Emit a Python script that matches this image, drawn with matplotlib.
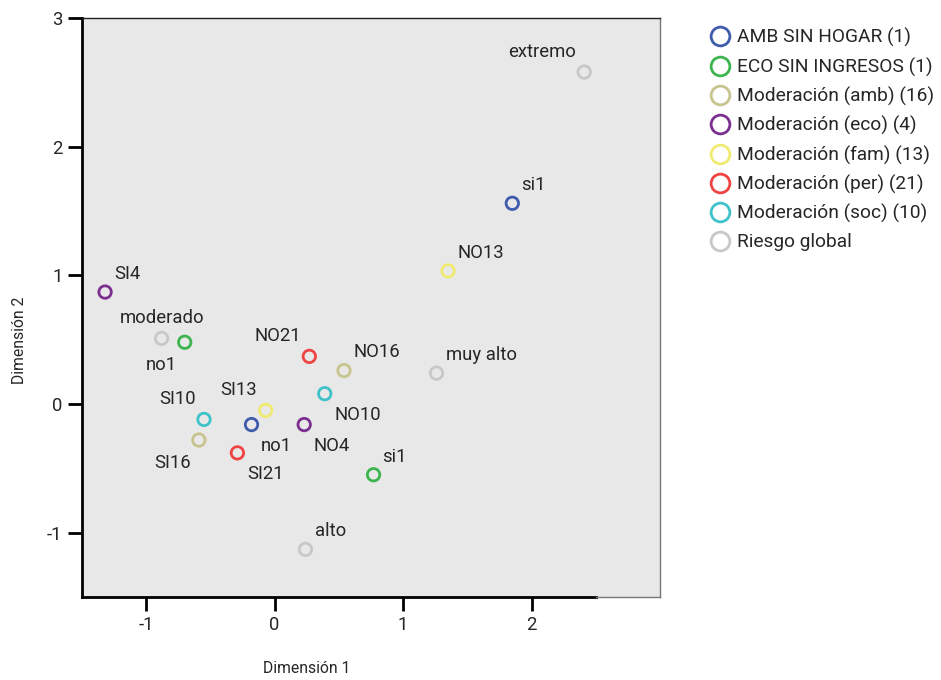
import matplotlib.pyplot as plt
from matplotlib.lines import Line2D

plt.rcParams['font.family'] = ['Roboto', 'DejaVu Sans']
plt.rcParams['axes.unicode_minus'] = False

# categories and legend text
groups = ['AMB SIN HOGAR (1)', 'ECO SIN INGRESOS (1)', 'Moderación (amb) (16)',
          'Moderación (eco) (4)', 'Moderación (fam) (13)', 'Moderación (per) (21)',
          'Moderación (soc) (10)', 'Riesgo global']
colors = ['#3f5bab', '#3db54f', '#c8c48f', '#7b2f8f', '#f0ea70', '#f04444', '#3fc2c8', '#c8c8c8']

# points: label, group index, dim1, dim2
labels = ['si1', 'no1', 'si1', 'no1', 'NO16', 'SI16', 'SI4', 'NO4', 'NO13', 'SI13',
          'NO21', 'SI21', 'NO10', 'SI10', 'extremo', 'muy alto', 'moderado', 'alto']
grp = [0, 0, 1, 1, 2, 2, 3, 3, 4, 4, 5, 5, 6, 6, 7, 7, 7, 7]
dim1 = [1.85, -0.18, 0.77, -0.70, 0.54, -0.59, -1.32, 0.23, 1.35, -0.07,
        0.27, -0.29, 0.39, -0.55, 2.41, 1.26, -0.88, 0.24]
dim2 = [1.56, -0.16, -0.55, 0.48, 0.26, -0.28, 0.87, -0.16, 1.035, -0.05,
        0.37, -0.38, 0.08, -0.12, 2.58, 0.24, 0.51, -1.13]

# where each label sits relative to its point
place = ['ur', 'lr', 'ur', 'll', 'ur', 'll', 'ur', 'lr', 'ur', 'ul',
         'ul', 'lr', 'lr', 'ul', 'ul', 'ur', 'uc', 'ur']
offs = {'ur': (6.5, 13, 'left'), 'ul': (-6, 14.5, 'right'), 'lr': (7, -15.5, 'left'),
        'll': (-6, -16.5, 'right'), 'uc': (0, 15, 'center')}

txt = '#262626'

fig = plt.figure(figsize=(9.41, 6.8), dpi=100)
ax = fig.add_axes([0.0871, 0.1221, 0.6143, 0.8514])
ax.set_facecolor('#e8e8e8')

for i in range(len(labels)):
    ax.scatter(dim1[i], dim2[i], s=80, facecolors='none', edgecolors=colors[grp[i]],
               linewidths=2, zorder=3)
    dx, dy, ha = offs[place[i]]
    ax.annotate(labels[i], (dim1[i], dim2[i]), xytext=(dx, dy), textcoords='offset points',
                ha=ha, va='center', fontsize=13.3, color=txt)

ax.set_xlim(-1.5, 3.0)
ax.set_ylim(-1.5, 3.0)
ax.set_xticks([-1, 0, 1, 2])
ax.set_yticks([-1, 0, 1, 2, 3])
ax.tick_params(direction='out', length=10, width=2, labelsize=13.3, pad=4, colors='black',
               labelcolor=txt)

for s in ['left', 'bottom']:
    ax.spines[s].set_linewidth(2)
    ax.spines[s].set_color('black')
ax.spines['top'].set_linewidth(1)
ax.spines['top'].set_color('#222222')
ax.spines['right'].set_linewidth(1)
ax.spines['right'].set_color('#777777')
ax.spines['bottom'].set_bounds(-1.5, 2.5)
ax.plot([2.5, 3.0], [-1.5, -1.5], color='#777777', lw=1, clip_on=False, zorder=4)

fig.text(0.326, 0.017, 'Dimensión 1', fontsize=11.3, ha='center', va='center', color=txt)
fig.text(0.021, 0.5, 'Dimensión 2', fontsize=11.3, ha='center', va='center', rotation=90,
         color=txt)

handles = [Line2D([], [], marker='o', ls='none', markersize=13.5, mfc='none', mec=c, mew=2)
           for c in colors]
fig.legend(handles, groups, loc='upper left', bbox_to_anchor=(0.745, 0.97), frameon=False,
           fontsize=13.8, labelspacing=0.53, handletextpad=0.3, handlelength=1.2,
           borderaxespad=0, labelcolor=txt)

fig.savefig('out.png', dpi=100)
